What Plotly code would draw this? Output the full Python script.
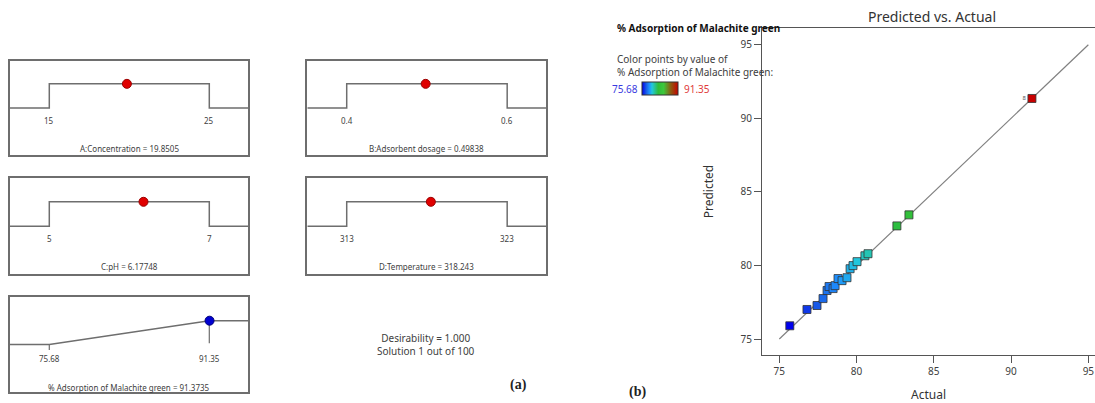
import plotly.graph_objects as go

# ---- Optimisation ramps (panel a) ----
factor_names = ["A:Concentration", "B:Adsorbent dosage", "C:pH", "D:Temperature"]
factor_low = [15, 0.4, 5, 313]
factor_high = [25, 0.6, 7, 323]
factor_low_text = ["15", "0.4", "5", "313"]
factor_high_text = ["25", "0.6", "7", "323"]
factor_opt = [19.8505, 0.49838, 6.17748, 318.243]

response_name = "% Adsorption of Malachite green"
response_low = 75.68
response_high = 91.35
response_opt = 91.3735
desirability = 1.000
solution_text = "Solution 1 out of 100"

# ---- Predicted vs. actual (panel b) ----
actual = [75.68, 76.79, 77.44, 77.83, 78.09, 78.22, 78.48, 78.61, 78.80, 79.06,
          79.38, 79.58, 79.77, 80.03, 80.54, 80.74, 82.61, 83.39, 91.35]
predicted = [75.90, 77.01, 77.28, 77.75, 78.30, 78.57, 78.43, 78.63, 79.11, 78.97,
             79.17, 79.78, 79.99, 80.26, 80.66, 80.80, 82.69, 83.44, 91.35]
point_labels = [""] * 18 + ["8"]
diag = [75, 95]
ticks_b = [75, 80, 85, 90, 95]

FONT = "Noto Sans"
GREY = "#6e6e6e"
TXT = "#404040"

W, H = 1095, 403


def px_x(p):
    return p / W


def px_y(p):
    return 1 - p / H


fig = go.Figure()
annotations = []

# panel boxes (pixel frames)
box_cols = [(10, 248), (307.3, 546)]
box_rows = [(61, 156), (179.3, 275.3), (298.3, 394.3)]

layout_axes = {}


def ramp_range(lo, hi):
    span = hi - lo
    return [lo - 0.2456 * span, hi + 0.2419 * span]


def box_axes(n, xr, yr, xdom, ydom):
    common = dict(showgrid=False, zeroline=False, showticklabels=False, ticks="",
                  showline=True, mirror=True, linecolor=GREY, linewidth=1.5,
                  fixedrange=True)
    layout_axes[f"xaxis{n}"] = dict(domain=[px_x(xdom[0]), px_x(xdom[1])], range=xr,
                                    anchor=f"y{n}", **common)
    layout_axes[f"yaxis{n}"] = dict(domain=[px_y(ydom[1]), px_y(ydom[0])], range=yr,
                                    anchor=f"x{n}", **common)


def note(x, y, text, xref, yref, size=8, color=TXT, **kw):
    d = dict(x=x, y=y, xref=xref, yref=yref, text=text, showarrow=False,
             yanchor="middle", font=dict(family=FONT, size=size, color=color))
    d.update(kw)
    annotations.append(d)


for i in range(4):
    r, c = divmod(i, 2)
    n = i + 2
    xa, ya = f"x{n}", f"y{n}"
    xr = ramp_range(factor_low[i], factor_high[i])
    box_axes(n, xr, [-1.96, 1.96], box_cols[c], box_rows[r])
    lo, hi = factor_low[i], factor_high[i]
    fig.add_trace(go.Scatter(x=[xr[0], lo, lo, hi, hi, xr[1]], y=[0, 0, 1, 1, 0, 0],
                             xaxis=xa, yaxis=ya, mode="lines",
                             line=dict(color=GREY, width=1.5), hoverinfo="skip",
                             showlegend=False))
    fig.add_trace(go.Scatter(x=[factor_opt[i]], y=[1], xaxis=xa, yaxis=ya, mode="markers",
                             marker=dict(color="#e00000", size=9,
                                         line=dict(color="#9a0000", width=1)),
                             showlegend=False))
    note(lo, -0.51, factor_low_text[i], xa, ya)
    note(hi, -0.51, factor_high_text[i], xa, ya)
    note((xr[0] + xr[1]) / 2, -1.67, f"{factor_names[i]} = {factor_opt[i]}", xa, ya)

# response ramp
n = 6
xa, ya = f"x{n}", f"y{n}"
xr = ramp_range(response_low, response_high)
box_axes(n, xr, [-2.0, 2.0], box_cols[0], box_rows[2])
fig.add_trace(go.Scatter(x=[xr[0], response_low, response_high, xr[1]], y=[0, 0, 1, 1],
                         xaxis=xa, yaxis=ya, mode="lines",
                         line=dict(color=GREY, width=1.5), showlegend=False))
fig.add_trace(go.Scatter(x=[response_low, response_low], y=[0, -0.23], xaxis=xa, yaxis=ya,
                         mode="lines", line=dict(color=GREY, width=1.2), showlegend=False))
fig.add_trace(go.Scatter(x=[response_high, response_high], y=[1, 0.06], xaxis=xa, yaxis=ya,
                         mode="lines", line=dict(color=GREY, width=1.2), showlegend=False))
fig.add_trace(go.Scatter(x=[response_opt], y=[1], xaxis=xa, yaxis=ya, mode="markers",
                         marker=dict(color="#0000d0", size=9,
                                     line=dict(color="#00007a", width=1)),
                         showlegend=False))
for v in (response_low, response_high):
    note(v, -0.6, f"{v:.2f}", xa, ya)
note((xr[0] + xr[1]) / 2, -1.79, f"{response_name} = {response_opt}", xa, ya)

note(px_x(426), px_y(346), f"Desirability = {desirability:.3f}<br>{solution_text}",
     "paper", "paper", size=10, align="center")
annotations.append(dict(x=px_x(518), y=px_y(387), xref="paper", yref="paper",
                        text="<b>(a)</b>", showarrow=False, yanchor="middle",
                        font=dict(family="Liberation Serif", size=14, color="#222")))
annotations.append(dict(x=px_x(637), y=px_y(394), xref="paper", yref="paper",
                        text="<b>(b)</b>", showarrow=False, yanchor="middle",
                        font=dict(family="Liberation Serif", size=14, color="#222")))

# ---- panel b ----
colorscale = [[0.0, "#0000ee"], [0.12, "#1a5fe6"], [0.2, "#1e90ff"], [0.28, "#22c8dc"],
              [0.45, "#2ebd3a"], [0.6, "#3cc83c"], [0.8, "#8c5a10"], [1.0, "#c80000"]]

fig.add_trace(go.Scatter(x=diag, y=diag, mode="lines", line=dict(color="#808080", width=1.2),
                         showlegend=False, hoverinfo="skip"))
fig.add_trace(go.Scatter(
    x=actual, y=predicted, mode="markers+text", text=point_labels,
    textposition="middle left", textfont=dict(family=FONT, size=6, color="#555"),
    marker=dict(symbol="square", size=8, color=actual, colorscale=colorscale,
                cmin=response_low, cmax=response_high,
                line=dict(color="#333333", width=0.8),
                colorbar=dict(orientation="h", lenmode="pixels", len=36,
                              thicknessmode="pixels", thickness=13,
                              x=px_x(660.3), xanchor="center", y=px_y(89.2), yanchor="middle",
                              xpad=0, ypad=0, showticklabels=False, ticks="",
                              outlinewidth=1, outlinecolor="#333")),
    showlegend=False))

note(px_x(615), px_y(28), f"<b>{response_name}</b>", "paper", "paper", size=10,
     color="#111", xanchor="left")
note(px_x(615), px_y(59), "Color points by value of", "paper", "paper", size=10,
     xanchor="left")
note(px_x(615), px_y(72), f"{response_name}:", "paper", "paper", size=10, xanchor="left")
note(px_x(640), px_y(89), f"{response_low:.2f}", "paper", "paper", size=10,
     color="#3a3ae0", xanchor="right")
note(px_x(682), px_y(89), f"{response_high:.2f}", "paper", "paper", size=10,
     color="#e03a3a", xanchor="left")

fig.update_layout(
    width=W, height=H, margin=dict(l=0, r=0, t=0, b=0),
    paper_bgcolor="white", plot_bgcolor="white",
    title=dict(text="Predicted vs. Actual", x=px_x(932), xanchor="center",
               y=px_y(17), yanchor="middle", font=dict(family=FONT, size=14, color="#333")),
    xaxis=dict(domain=[px_x(762), 1.0], range=[73.88, 95.43], tickvals=ticks_b,
               showgrid=False, zeroline=False, showline=True, mirror=True,
               linecolor="#555", linewidth=1.2, ticks="outside", ticklen=7,
               tickcolor="#555", tickfont=dict(family=FONT, size=10, color=TXT),
               title=dict(text="Actual", font=dict(family=FONT, size=12, color="#333"),
                          standoff=16)),
    yaxis=dict(domain=[px_y(357), px_y(28)], range=[73.9, 96.15], tickvals=ticks_b,
               showgrid=False, zeroline=False, showline=True,
               linecolor="#555", linewidth=1.2, ticks="outside", ticklen=7,
               tickcolor="#555", tickfont=dict(family=FONT, size=10, color=TXT),
               title=dict(text="Predicted", font=dict(family=FONT, size=12, color="#333"),
                          standoff=24)),
    annotations=annotations,
    **layout_axes,
)

fig.write_html("out.html")
